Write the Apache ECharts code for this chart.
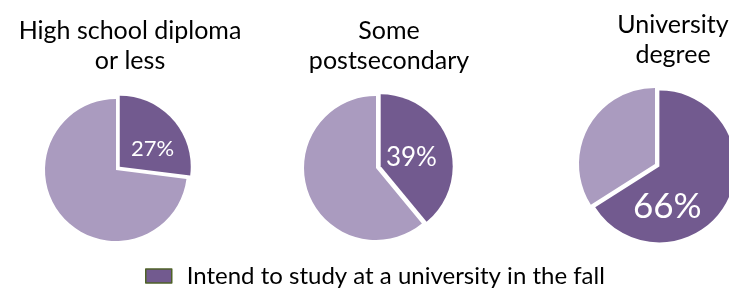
<!DOCTYPE html>
<html>
<head>
<meta charset="utf-8">
<script src="https://cdn.jsdelivr.net/npm/echarts@6/dist/echarts.min.js"></script>
<style>
  html, body { margin: 0; padding: 0; background: #fff; }
  #chart { width: 729px; height: 288px; }
</style>
</head>
<body>
<div id="chart"></div>
<script>
const groups = ["High school diploma\nor less", "Some\npostsecondary", "University\ndegree"];
const intendPct = [27, 39, 66];
const otherPct = [73, 61, 34];
const seriesName = "Intend to study at a university in the fall";

const dark = "#725a8f";
const light = "#aa9bbf";

// layout per pie
const centers = [[116, 170], [376, 168], [655, 164]];
const radii = [71, 72, 76];
const titleX = [125, 384, 668];
const titleY = [11, 11, 5];
const labelSize = [22, 26, 35];
// horizontal nudge through padding, vertical nudge through an empty spacer line
const labelPadX = [[0, 0, 0, 8], [0, 12, 0, 0], [0, 56, 0, 0]];
const spacer = [16, 10, 42];

const chart = echarts.init(document.getElementById("chart"));

const option = {
  animation: false,
  title: groups.map((g, i) => ({
    text: g,
    left: titleX[i],
    top: titleY[i],
    textAlign: "center",
    textStyle: {
      fontFamily: "Lato",
      fontWeight: "normal",
      fontSize: 25,
      lineHeight: 30,
      color: "#000",
    },
  })),
  legend: {
    data: [seriesName],
    left: 140,
    top: 259,
    icon: "rect",
    itemWidth: 26,
    itemHeight: 14,
    itemStyle: { borderColor: "#4f6228", borderWidth: 1.5 },
    textStyle: {
      fontFamily: "Lato",
      fontSize: 24,
      color: "#000",
      padding: [0, 0, 0, 10],
    },
    selectedMode: false,
  },
  series: groups.map((g, i) => ({
    type: "pie",
    center: centers[i],
    radius: radii[i],
    startAngle: 90,
    clockwise: true,
    selectedMode: "single",
    selectedOffset: 5,
    silent: true,
    label: { show: false },
    labelLine: { show: false },
    data: [
      {
        name: seriesName,
        value: intendPct[i],
        selected: true,
        itemStyle: { color: dark },
        label: {
          show: true,
          position: "inside",
          formatter: "{s| }\n{v|{c}%}",
          padding: labelPadX[i],
          rich: {
            s: { fontSize: 1, lineHeight: spacer[i] },
            v: {
              color: "#fff",
              fontFamily: "Lato",
              fontSize: labelSize[i],
              lineHeight: Math.round(labelSize[i] * 1.2),
            },
          },
        },
      },
      {
        name: "Other",
        value: otherPct[i],
        itemStyle: { color: light },
      },
    ],
  })),
};

chart.setOption(option);
</script>
</body>
</html>
